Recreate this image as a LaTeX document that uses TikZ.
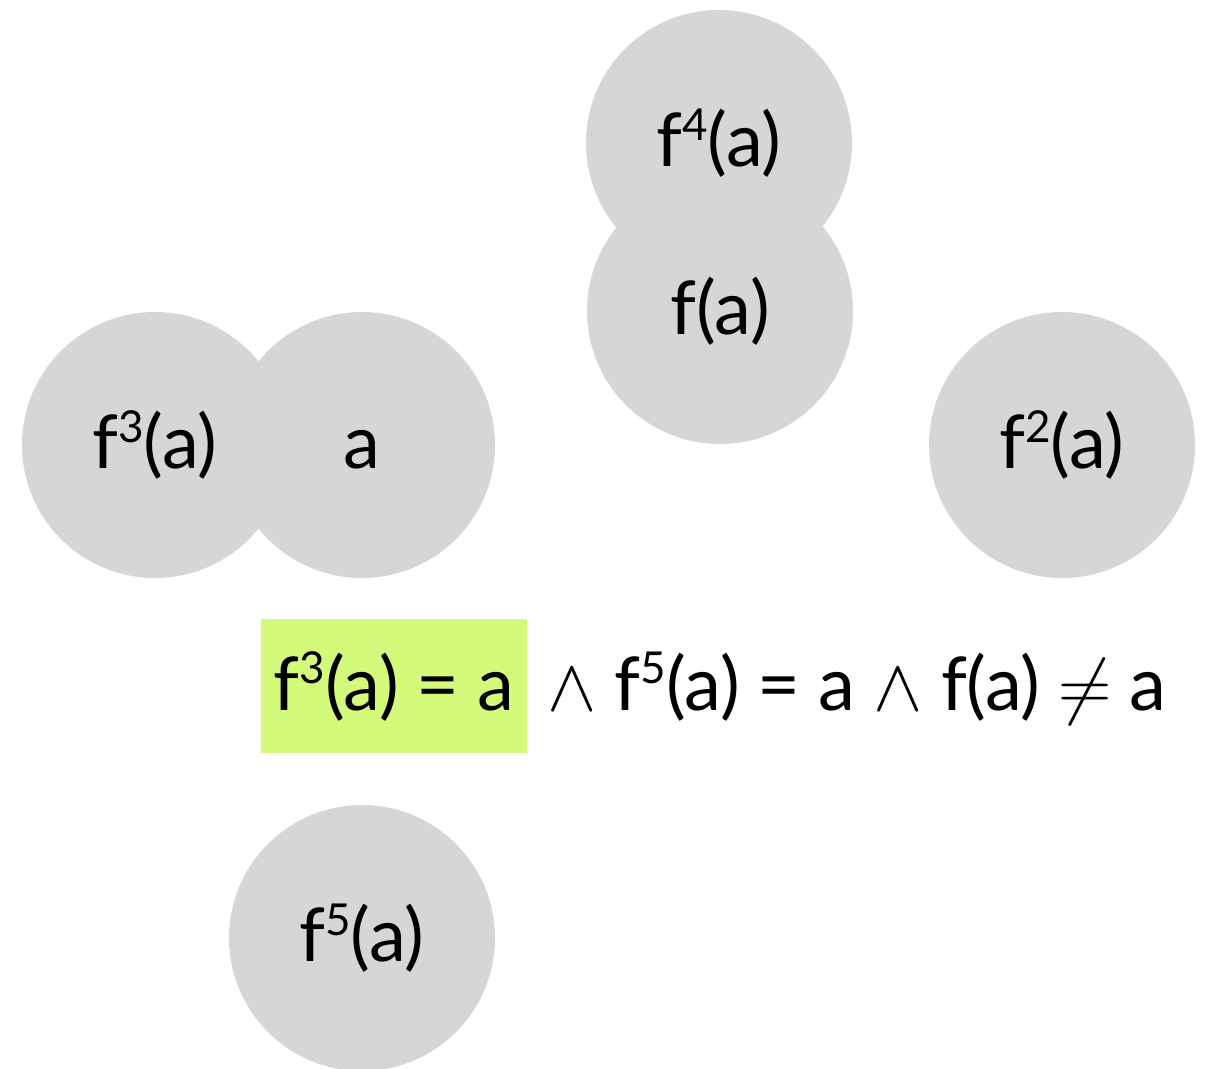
\RequirePackage{fix-cm}
\documentclass[tikz,border=0pt]{standalone}
\usepackage{fontspec}
\setmainfont{Lato}
\usetikzlibrary{positioning}
\definecolor{discgray}{HTML}{D6D6D6}
\definecolor{hilite}{HTML}{D4FA7C}
% small raised exponent, top level with the f
\newcommand{\iter}[1]{\raisebox{0.36em}{\fontsize{44}{44}\selectfont #1}}
\newcommand{\widespace}{\spaceskip 18pt\relax}

\begin{document}
\begin{tikzpicture}[x=1pt,y=-1pt,
    disc/.style={circle, fill=discgray, minimum size=266pt, inner sep=0pt, font=\fontsize{74}{88}\selectfont},
    eqn/.style={inner sep=0pt, font=\fontsize{74}{88}\selectfont\widespace}]
	\useasboundingbox (0,0) rectangle (1209,1068);
	\clip (0,0) rectangle (1209,1068);

	\node[disc] (f4a) at (719,143) {f\iter{4}(a)};
	\node[disc] (fa) at (720,311) {f(a)};
	\node[disc] (f3a) at (155,445) {f\iter{3}(a)};
	\node[disc] (a) at (362,445) {\vphantom{(}a};
	\node[disc] (f2a) at (1062,445) {f\iter{2}(a)};
	\node[disc] (f5a) at (362,938) {f\iter{5}(a)};

	\node[eqn, fill=hilite, minimum width=266pt, minimum height=134pt, anchor=north west] (lhs) at (261,619) {f\iter{3}(a) = a};
	\node[eqn, anchor=base west, xshift=20pt] (rhs) at (lhs.base east) {$\wedge$ f\iter{5}(a) = a $\wedge$ f(a) $\neq$ a};
\end{tikzpicture}
\end{document}
